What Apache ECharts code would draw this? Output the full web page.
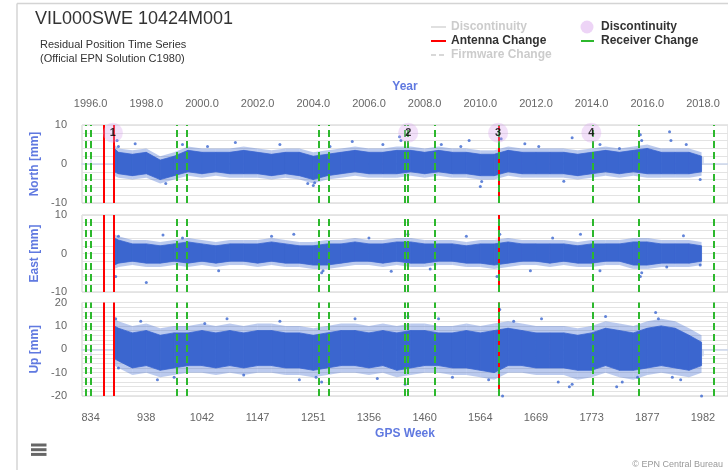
<!DOCTYPE html>
<html><head><meta charset="utf-8">
<script src="https://cdn.jsdelivr.net/npm/echarts@6/dist/echarts.min.js"></script>
<style>html,body{margin:0;padding:0;background:#fff;overflow:hidden}#c{width:728px;height:470px}</style>
</head><body><div id="c"></div>
<script>
// ---- data ----
const binYears = [1996.85,1997.0,1997.5,1998.0,1998.5,1999.0,1999.5,2000.0,2000.5,2001.0,2001.5,2002.0,2002.5,2003.0,2003.5,2004.0,2004.5,2005.0,2005.5,2006.0,2006.5,2007.0,2007.5,2008.0,2008.5,2009.0,2009.5,2010.0,2010.5,2011.0,2011.5,2012.0,2012.5,2013.0,2013.5,2014.0,2014.5,2015.0,2015.5,2016.0,2016.5,2017.0,2017.5,2017.95];
// dense core of the cloud
const northLow  = [-2,-2.5,-3,-2.5,-4,-3,-2,-2.5,-2,-2.5,-2.5,-2.5,-3,-2.5,-3,-4,-3,-2.5,-2,-2.5,-2.5,-2.5,-2,-2.5,-2,-2.5,-2.5,-3,-3,-2,-2.5,-2.5,-2.5,-2.5,-3,-2.5,-2,-2.5,-2,-2.5,-2.5,-2.5,-2.5,-2];
const northHigh = [4,3,2.5,3,1,2,3.5,3,3,3,3.5,3,2.5,3,3,2,2.5,3,3.5,3,3,3.5,3.5,3,3.5,3,3,2.5,2.5,3.5,3,3,3,3,2.5,3,3.5,3,3.5,4,3,3,3,2];
const eastLow   = [-3,-2.5,-2,-2.5,-2.5,-2,-2.5,-2,-2.5,-2,-2,-2.5,-2,-2.5,-2.5,-3,-3,-2.5,-2,-2,-2.5,-2,-2.5,-2.5,-2,-2,-2.5,-2.5,-3,-2.5,-2,-2,-2.5,-2,-2.5,-2.5,-2,-2,-3,-3,-2.5,-2.5,-2.5,-2];
const eastHigh  = [4,3.5,2.5,2.5,2,2.5,3,2.5,2,2.5,2.5,2.5,3,2.5,2,2,2.5,2.5,3,2.5,2.5,3,3,2.5,2.5,2.5,2,2.5,2.5,3,2.5,2.5,2.5,2.5,2,2.5,2.5,2.5,3,3,2.5,2.5,2.5,2];
const upLow     = [-4,-5,-8,-7,-9,-8,-7,-7,-8,-7,-8,-7,-7,-8,-8,-9,-8,-7,-7,-8,-7,-9,-8,-7,-7,-8,-8,-9,-10,-7,-7,-8,-8,-8,-9,-9,-7,-9,-9,-8,-7,-8,-9,-7];
const upHigh    = [10,9,7,8,6,7,7,8,7,8,7,8,8,7,7,6,7,8,8,7,8,7,8,8,7,7,8,7,8,9,8,7,7,7,6,7,9,8,7,9,10,9,6,3];
// sparser outer envelope of the cloud
const northOuterLow  = [-3,-3.5,-4,-3.5,-5,-4,-3,-3.5,-3,-3.5,-3.5,-3.5,-4,-3.5,-4,-5,-4,-3.5,-3,-3.5,-3.5,-3.5,-3,-3.5,-3,-3.5,-3.5,-4,-4,-3,-3.5,-3.5,-3.5,-3.5,-4,-3.5,-3,-3.5,-3,-3.5,-3.5,-3.5,-3.5,-3];
const northOuterHigh = [5,4,3.5,4,2,3,4.5,4,4,4,4.5,4,3.5,4,4,3,3.5,4,4.5,4,4,4.5,4.5,4,4.5,4,4,3.5,3.5,4.5,4,4,4,4,3.5,4,4.5,4,4.5,5,4,4,4,3];
const eastOuterLow   = [-4,-3.5,-3,-3.5,-3.5,-3,-3.5,-3,-3.5,-3,-3,-3.5,-3,-3.5,-3.5,-4,-4,-3.5,-3,-3,-3.5,-3,-3.5,-3.5,-3,-3,-3.5,-3.5,-4,-3.5,-3,-3,-3.5,-3,-3.5,-3.5,-3,-3,-4,-4,-3.5,-3.5,-3.5,-3];
const eastOuterHigh  = [5,4.5,3.5,3.5,3,3.5,4,3.5,3,3.5,3.5,3.5,4,3.5,3,3,3.5,3.5,4,3.5,3.5,4,4,3.5,3.5,3.5,3,3.5,3.5,4,3.5,3.5,3.5,3.5,3,3.5,3.5,3.5,4,4,3.5,3.5,3.5,3];
const upOuterLow     = [-7,-8,-11,-10,-12,-11,-10,-10,-11,-10,-11,-10,-10,-11,-11,-12,-11,-10,-10,-11,-10,-12,-11,-10,-10,-11,-11,-12,-13,-10,-10,-11,-11,-11,-13,-12,-10,-12,-13,-11,-10,-11,-12,-10];
const upOuterHigh    = [13,12,10,11,9,10,10,11,10,11,10,11,11,10,10,9,10,11,11,10,11,10,11,11,10,10,11,10,11,12,11,10,10,10,9,10,12,11,10,12,13,12,9,6];
// isolated points outside the cloud
const northOutliers = [[1996.95,6],[1997.0,4.5],[1997.6,5.2],[1998.7,-5],[1999.3,5],[2000.2,4.5],[2001.2,5.5],[2002.8,5],[2003.8,-5],[2004.0,-5.5],[2004.05,-4.8],[2004.6,4.5],[2005.4,5.8],[2006.5,5],[2007.1,7],[2007.15,6],[2008.6,5],[2009.3,4.5],[2009.6,6],[2010.0,-5.8],[2010.05,-4.5],[2010.75,6.5],[2011.6,5.2],[2012.1,4.5],[2013.0,-4.4],[2013.3,6.7],[2014.3,5],[2015.0,4],[2015.75,7.5],[2015.8,6],[2016.8,8.3],[2016.85,6],[2017.4,5],[2017.9,-4]];
const eastOutliers  = [[1996.9,-6],[1997.0,4.5],[1998.0,-7.5],[1998.6,4.8],[1999.3,4],[2000.6,-4.5],[2002.5,4.5],[2003.3,5],[2004.3,-5],[2004.35,-4.5],[2006.0,4],[2006.8,-4.6],[2007.4,5],[2008.2,-4],[2009.5,4.5],[2010.6,-6],[2010.7,5],[2011.8,-4.5],[2012.6,4],[2013.6,5],[2014.3,-4.5],[2015.75,-6],[2015.8,-5],[2016.7,-3.5],[2017.3,4.6],[2017.9,-3]];
const upOutliers    = [[1996.9,13],[1997.0,-8],[1997.8,12],[1998.4,-13],[1999.0,-12],[2000.1,11],[2000.9,13],[2001.5,-11],[2002.8,12],[2003.5,-13],[2004.1,-12],[2004.3,-14],[2005.5,13],[2006.3,-12.5],[2007.3,-15],[2007.4,14],[2008.5,13],[2009.0,-12],[2010.3,-13],[2010.7,17],[2010.8,-20],[2011.2,12],[2012.2,13],[2012.8,-14],[2013.2,-16],[2013.3,-15],[2014.5,14],[2014.9,-16],[2015.1,-14],[2015.65,-12],[2016.3,15.7],[2016.4,13],[2016.9,-12],[2017.2,-13],[2017.95,-20]];
const antennaChanges  = [1996.48,1996.83,2010.65];
const receiverChanges = [1995.81,1996.02,1999.08,1999.45,2004.18,2004.54,2007.30,2007.39,2008.35,2010.65,2014.04,2015.70,2018.40];
const discontinuities = [[1996.80,'1'],[2007.41,'2'],[2010.64,'3'],[2013.99,'4']];
const yearTicks     = [1996,1998,2000,2002,2004,2006,2008,2010,2012,2014,2016,2018];
const gpsWeekLabels = [834,938,1042,1147,1251,1356,1460,1564,1669,1773,1877,1982];

// ---- chart ----
const X_MIN = 1995.69, X_MAX = 2018.90;
const BLUE = '#3b66cf';
const BLUE_LIGHT = 'rgba(59,102,207,0.35)';
const FONT = 'Liberation Sans, Arial, sans-serif';
const AXIS_BLUE = '#6079e0';

function bandData(lo, hi){
  const out = [];
  for (let i = 0; i < binYears.length - 1; i++)
    out.push([binYears[i], lo[i], hi[i], binYears[i+1], lo[i+1], hi[i+1]]);
  return out;
}
function bandRenderer(color, stroke){
  return function(params, api){
    const a = api.coord([api.value(0), api.value(2)]);
    const b = api.coord([api.value(3), api.value(5)]);
    const c = api.coord([api.value(3), api.value(4)]);
    const d = api.coord([api.value(0), api.value(1)]);
    return {type:'polygon', shape:{points:[a,b,c,d]}, style:stroke ? {fill:color, stroke:color, lineWidth:0.8} : {fill:color}};
  };
}
const eventLines = [];
antennaChanges.forEach(v => eventLines.push({xAxis:v, lineStyle:{color:'#ff0000', width:2, type:'solid'}}));
receiverChanges.forEach(v => eventLines.push({xAxis:v, lineStyle:{color:'#2db82d', width:2, type:[7,4]}}));

const grids = [
  {left:82, width:653, top:125, height:78},
  {left:82, width:653, top:215, height:77},
  {left:82, width:653, top:302.5, height:93.5}
].map(g => Object.assign(g, {show:true, borderColor:'#cfcfcf', borderWidth:1}));

function yAx(i, name, lim){
  return {gridIndex:i, type:'value', min:-lim, max:lim, interval:2,
    name:name, nameLocation:'middle', nameGap:41,
    nameTextStyle:{color:AXIS_BLUE, fontWeight:'bold', fontSize:12, fontFamily:FONT},
    axisLabel:{formatter: v => (v % 10 === 0 ? String(v) : ''), color:'#666', fontSize:11, margin:15, fontFamily:FONT},
    axisLine:{show:false}, axisTick:{show:false},
    splitLine:{show:true, lineStyle:{color:'#e3e3e3', width:1}}};
}
const xCommon = {type:'value', min:X_MIN, max:X_MAX, splitLine:{show:false}};
const xAxes = [
  Object.assign({}, xCommon, {gridIndex:0, position:'top', offset:8,
    name:'Year', nameLocation:'middle', nameGap:24,
    nameTextStyle:{color:AXIS_BLUE, fontWeight:'bold', fontSize:12, fontFamily:FONT},
    axisLine:{show:true, lineStyle:{color:'#ccd6eb', width:1.5}},
    axisTick:{show:true, length:7, customValues:yearTicks, lineStyle:{color:'#ccd6eb', width:1.5}},
    axisLabel:{customValues:yearTicks, formatter: v => v.toFixed(1), color:'#666', fontSize:11, margin:8, fontFamily:FONT}}),
  Object.assign({}, xCommon, {gridIndex:1, show:false}),
  Object.assign({}, xCommon, {gridIndex:2, position:'bottom', offset:7,
    name:'GPS Week', nameLocation:'middle', nameGap:25,
    nameTextStyle:{color:AXIS_BLUE, fontWeight:'bold', fontSize:12, fontFamily:FONT},
    axisLine:{show:true, lineStyle:{color:'#ccd6eb', width:1.5}},
    axisTick:{show:true, length:7, customValues:yearTicks, lineStyle:{color:'#ccd6eb', width:1.5}},
    axisLabel:{customValues:yearTicks, formatter: v => String(gpsWeekLabels[yearTicks.indexOf(Math.round(v))]), color:'#666', fontSize:11, margin:9, fontFamily:FONT}})
];

const series = [];
[[northOuterLow,northOuterHigh,northLow,northHigh,northOutliers],
 [eastOuterLow,eastOuterHigh,eastLow,eastHigh,eastOutliers],
 [upOuterLow,upOuterHigh,upLow,upHigh,upOutliers]].forEach((c,i) => {
  series.push({type:'custom', xAxisIndex:i, yAxisIndex:i, renderItem:bandRenderer(BLUE_LIGHT, false), data:bandData(c[0],c[1]),
    encode:{x:[0,3], y:[1,2,4,5]}, clip:true, silent:true, z:2});
  series.push({type:'custom', xAxisIndex:i, yAxisIndex:i, renderItem:bandRenderer(BLUE, true), data:bandData(c[2],c[3]),
    encode:{x:[0,3], y:[1,2,4,5]}, clip:true, silent:true, z:2});
  series.push({type:'scatter', xAxisIndex:i, yAxisIndex:i, data:c[4], symbolSize:3, itemStyle:{color:BLUE}, z:2, silent:true,
    markLine:{silent:true, symbol:['none','none'], label:{show:false}, animation:false, data:eventLines, z:3}});
});
series.push({type:'scatter', xAxisIndex:0, yAxisIndex:0, z:5,
  data:discontinuities.map(d => [d[0], 8, d[1]]), symbolSize:20,
  itemStyle:{color:'rgba(214,160,236,0.4)'},
  label:{show:true, position:'inside', formatter: p => p.value[2], color:'#000', fontWeight:'bold', fontSize:11, fontFamily:FONT}});

const graphic = [
  {type:'line', shape:{x1:17, y1:3.5, x2:728, y2:3.5}, style:{stroke:'#d4d4d4', lineWidth:1.5}},
  {type:'line', shape:{x1:17, y1:3.5, x2:17, y2:470}, style:{stroke:'#d4d4d4', lineWidth:1.5}},
  {type:'text', left:35, top:10, style:{text:'VIL000SWE 10424M001', fontSize:18, fill:'#333', fontFamily:FONT}},
  {type:'text', left:40, top:38, style:{text:'Residual Position Time Series\n(Official EPN Solution C1980)', fontSize:11, lineHeight:14, fill:'#333', fontFamily:FONT}},
  {type:'line', shape:{x1:431, y1:27, x2:446, y2:27}, style:{stroke:'#e0e0e0', lineWidth:2}},
  {type:'text', x:451, y:27, style:{text:'Discontinuity', fontSize:12, fontWeight:'bold', fill:'#cccccc', verticalAlign:'middle', fontFamily:FONT}},
  {type:'line', shape:{x1:431, y1:41, x2:446, y2:41}, style:{stroke:'#ff0000', lineWidth:2}},
  {type:'text', x:451, y:41, style:{text:'Antenna Change', fontSize:12, fontWeight:'bold', fill:'#333', verticalAlign:'middle', fontFamily:FONT}},
  {type:'line', shape:{x1:431, y1:55, x2:446, y2:55}, style:{stroke:'#d8d8d8', lineWidth:2, lineDash:[5,3]}},
  {type:'text', x:451, y:55, style:{text:'Firmware Change', fontSize:12, fontWeight:'bold', fill:'#cccccc', verticalAlign:'middle', fontFamily:FONT}},
  {type:'circle', shape:{cx:587, cy:27, r:6.5}, style:{fill:'rgba(214,160,236,0.45)'}},
  {type:'text', x:601, y:27, style:{text:'Discontinuity', fontSize:12, fontWeight:'bold', fill:'#333', verticalAlign:'middle', fontFamily:FONT}},
  {type:'line', shape:{x1:581, y1:41, x2:594, y2:41}, style:{stroke:'#2db82d', lineWidth:2}},
  {type:'text', x:601, y:41, style:{text:'Receiver Change', fontSize:12, fontWeight:'bold', fill:'#333', verticalAlign:'middle', fontFamily:FONT}},
  {type:'rect', shape:{x:31, y:443.5, width:15.5, height:3}, style:{fill:'#666'}},
  {type:'rect', shape:{x:31, y:448.2, width:15.5, height:3}, style:{fill:'#666'}},
  {type:'rect', shape:{x:31, y:452.9, width:15.5, height:3}, style:{fill:'#666'}},
  {type:'text', right:5, top:460, style:{text:'\u00a9 EPN Central Bureau', fontSize:9, fill:'#999', fontFamily:FONT}}
];

const chart = echarts.init(document.getElementById('c'), null, {renderer:'canvas'});
chart.setOption({animation:false, textStyle:{fontFamily:FONT}, grid:grids, xAxis:xAxes,
  yAxis:[yAx(0,'North [mm]',10), yAx(1,'East [mm]',10), yAx(2,'Up [mm]',20)], series:series, graphic:graphic});
</script></body></html>
